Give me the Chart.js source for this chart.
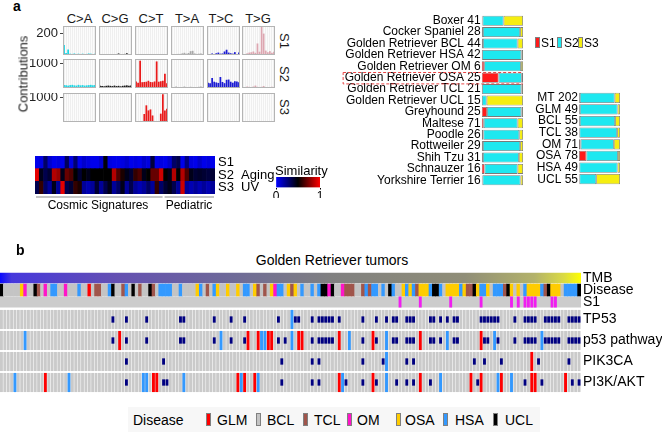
<!DOCTYPE html>
<html>
<head>
<meta charset="utf-8">
<script src="https://cdn.jsdelivr.net/npm/chart.js@4.4.0/dist/chart.umd.min.js"></script>
<style>
  body { margin: 0; background: #fff; font-family: "Liberation Sans", Arial, sans-serif; }
  #page { position: relative; width: 662px; height: 432px; overflow: hidden; }
  .box { position: absolute; }
  .txt { position: absolute; white-space: pre; color: #000; line-height: 1; }
  .sw { position: absolute; box-sizing: border-box; border: 1px solid #808080; }
</style>
</head>
<body>
<div id="page"></div>
<script>
// ---- panel a: mutational signatures (16 trinucleotide contexts per mutation type)
const mutTypes = ['C>A', 'C>G', 'C>T', 'T>A', 'T>C', 'T>G'];
const typeColors = ['#20d6e4', '#1a1a1a', '#e81a1a', '#a8a8a8', '#1c1cd2', '#dca6b0'];
const sigNames = ['S1', 'S2', 'S3'];
const sigS1 = [
  90, 18, 50, 12, 10, 14, 8, 12, 9, 12, 6, 10, 14, 12, 8, 12,
  5, 4, 3, 6, 6, 8, 3, 6, 8, 14, 4, 8, 10, 16, 5, 8,
  2, 1, 2, 1, 1, 2, 1, 1, 1, 1, 2, 1, 2, 1, 1, 1,
  8, 6, 8, 10, 10, 15, 20, 12, 18, 35, 38, 14, 10, 12, 14, 8,
  10, 8, 14, 8, 16, 22, 12, 14, 32, 48, 22, 16, 12, 26, 8, 22,
  8, 10, 15, 22, 25, 32, 20, 105, 30, 255, 195, 40, 25, 35, 20, 30
];
const sigS2 = [
  120, 110, 100, 120, 130, 110, 100, 130, 110, 120, 100, 110, 120, 130, 110, 120,
  90, 80, 70, 90, 100, 90, 80, 100, 80, 90, 70, 90, 100, 110, 90, 100,
  270, 220, 1130, 240, 250, 260, 300, 250, 240, 270, 1100, 260, 280, 300, 590, 200,
  40, 30, 60, 40, 30, 40, 60, 40, 30, 50, 40, 30, 40, 50, 60, 40,
  220, 200, 415, 260, 230, 210, 455, 250, 200, 340, 350, 260, 220, 280, 270, 240,
  30, 40, 60, 50, 40, 60, 100, 50, 30, 50, 80, 40, 30, 40, 50, 40
];
const sigS3 = [
  5, 4, 6, 5, 4, 5, 6, 4, 5, 6, 4, 5, 6, 5, 4, 5,
  3, 2, 3, 2, 3, 2, 3, 2, 3, 2, 3, 2, 3, 2, 3, 2,
  10, 40, 5, 20, 330, 690, 480, 520, 270, 40, 5, 20, 345, 1150, 480, 550,
  6, 5, 8, 6, 5, 7, 6, 5, 6, 8, 5, 6, 5, 7, 6, 5,
  5, 6, 5, 7, 6, 5, 8, 6, 5, 6, 7, 5, 6, 5, 8, 6,
  4, 5, 4, 6, 5, 4, 5, 6, 4, 5, 6, 4, 5, 4, 5, 6
];
const sigMax = [264, 1200, 1200];
const sigTick = [200, 1000, 1000];

// cosine similarity of S1-S3 to 30 COSMIC + 12 pediatric signatures
const cosmicCount = 30;
const pediatricCount = 12;
const simRows = ['S1', 'S2  Aging', 'S3  UV'];
const simS1 = [0.04, 0.06, 0.3, 0.1, 0.04, 0.06, 0.04, 0.32, 0.06, 0.28,
  0.04, 0.1, 0.06, 0.04, 0.04, 0.1, 0.48, 0.06, 0.04, 0.04,
  0.06, 0.1, 0.04, 0.06, 0.04, 0.1, 0.06, 0.38, 0.04, 0.06,
  0.04, 0.1, 0.3, 0.35, 0.04, 0.25, 0.06, 0.04, 0.1, 0.04, 0.06, 0.04];
const simS2 = [0.95, 0.45, 0.35, 0.4, 0.85, 0.8, 0.45, 0.7, 0.65, 0.5,
  0.4, 0.5, 0.45, 0.5, 0.5, 0.5, 0.5, 0.5, 0.85, 0.65,
  0.55, 0.45, 0.4, 0.6, 0.65, 0.45, 0.5, 0.7, 0.7, 0.9,
  0.5, 0.45, 0.85, 0.5, 0.85, 0.65, 0.45, 0.4, 0.42, 0.4, 0.38, 0.4];
const simS3 = [0.35, 0.6, 0.3, 0.2, 0.45, 0.2, 0.95, 0.35, 0.4, 0.6,
  0.55, 0.2, 0.15, 0.2, 0.4, 0.2, 0.35, 0.45, 0.2, 0.3,
  0.45, 0.2, 0.35, 0.2, 0.15, 0.2, 0.3, 0.2, 0.6, 0.3,
  0.4, 0.45, 0.35, 0.2, 0.9, 0.2, 0.15, 0.2, 0.15, 0.2, 0.15, 0.2];

// signature fractions per breed / tumor type
const breeds = ['Boxer 41', 'Cocker Spaniel 28', 'Golden Retriever BCL 44', 'Golden Retriever HSA 42',
  'Golden Retriever OM 6', 'Golden Retriever OSA 25', 'Golden Retriever TCL 21', 'Golden Retriever UCL 15',
  'Greyhound 25', 'Maltese 71', 'Poodle 26', 'Rottweiler 29', 'Shih Tzu 31', 'Schnauzer 16', 'Yorkshire Terrier 16'];
const breedS1 = [0.02, 0.03, 0.03, 0.01, 0.06, 0.41, 0.01, 0.005, 0.13, 0.05, 0.04, 0.03, 0.03, 0.07, 0.02];
const breedS2 = [0.51, 0.90, 0.84, 0.95, 0.89, 0.56, 0.95, 0.115, 0.83, 0.82, 0.87, 0.90, 0.87, 0.80, 0.92];
const breedS3 = [0.47, 0.07, 0.13, 0.04, 0.05, 0.03, 0.04, 0.88, 0.04, 0.13, 0.09, 0.07, 0.10, 0.13, 0.06];
const highlightBreed = 'Golden Retriever OSA 25';
const tumors = ['MT 202', 'GLM 49', 'BCL 55', 'TCL 38', 'OM 71', 'OSA 78', 'HSA 49', 'UCL 55'];
const tumorS1 = [0.02, 0.02, 0.02, 0.01, 0.04, 0.18, 0.01, 0.01];
const tumorS2 = [0.85, 0.92, 0.86, 0.92, 0.81, 0.77, 0.93, 0.41];
const tumorS3 = [0.13, 0.06, 0.12, 0.07, 0.15, 0.05, 0.06, 0.58];
const sigColors = ['#ff1a1a', '#1ee8f0', '#f5ee10'];

// ---- panel b: oncoprint, one character per tumor (sorted by TMB)
// disease: G=GLM B=BCL T=TCL M=OM O=OSA H=HSA U=UCL
const diseaseBySample = 'UBBBBBOMBB UTBMBHHBBM BBBHBBGBTT BBHUBBTHBU BTBBUTBHHH HBBHBBBBOH BTBHOBBOBB ' +
  'OBHHBOTBTB OMHHBOTOBH BBHBHUUMUB BMTTTBBTHT HHBHBUHBBO HOHTOOOHUU HBOOOOHOTT UOHHOBHHHT UOBOBHOOOO HTUOOOBHHH HU';
const diseaseNames = { G: 'GLM', B: 'BCL', T: 'TCL', M: 'OM', O: 'OSA', H: 'HSA', U: 'UCL' };
const diseaseColors = { GLM: '#ff0000', BCL: '#c4c4c4', TCL: '#a0554b', OM: '#ff14c8', OSA: '#ffcc00', HSA: '#3399ff', UCL: '#000000' };
// S1 signature present: x
const s1BySample = '.......... .......... .......... .......... .......... .......... .......... ' +
  '.......... .......... .......... .......... ........x. ....x..... ...x...... ..x....... .x.x.xxxx. ...xx..... ..';
// genes: m=mutation a=amplification d=deletion
const geneRows = ['TP53', 'p53 pathway', 'PIK3CA', 'PI3K/AKT'];
const tp53 = '.......... .......... .......... ...m...m.. ...m...... ...mm..... ...m....m. ' +
  '..m....... ..m...dmm. ..m.mmmmm. m......m.. .m..m.mm.. mmm....mm. m.m.mm.... ..mmmmmm.. ..m..mmmm. .mmmmm..mm mm';
const p53Pathway = '.......d.. .......... .......... ...m.a.m.. ...m...... ...mm..... ...m.d..m. ' +
  '..ma..adda a.m.m.d.aa ..m.mmmmm. a..d...m.. am..d.mm.. mmm.a..mm. m.d.mm.... ..amm.dm.. ..m..mmmm. dmmmmm..mm mm';
const pik3ca = '.......... .......... .......... .......m.. ........m. .......... .......... ' +
  '.......... ...m...... ..m.m..... .......m.. ...md..... m.m....... .......... m..m....m. .......a.m ........m. ..';
const pi3kAkt = '....d..... ...a...... d......... .......m.. ..dd.aa.mm ....d..... .......... ' +
  'ada..ad... ...m...... ..m.m..... adm....m.. am..d..m.. m.m.a..m.. d........a .ma....da. .d...m.aa. m......a.m .m';
const alterationColors = { m: '#000080', a: '#ff0000', d: '#3399ff' };
const diseaseLegend = ['GLM', 'BCL', 'TCL', 'OM', 'OSA', 'HSA', 'UCL'];

// ------------------------------------------------------------------
Chart.defaults.font.family = '"Liberation Sans", Arial, sans-serif';
Chart.defaults.color = '#000';
Chart.defaults.animation = false;
Chart.defaults.plugins.legend.display = false;
Chart.defaults.plugins.tooltip.enabled = false;

const page = document.getElementById('page');

function place(left, top, w, h) {
  const div = document.createElement('div');
  div.className = 'box';
  div.style.left = left + 'px';
  div.style.top = top + 'px';
  const cv = document.createElement('canvas');
  cv.width = Math.round(w);
  cv.height = Math.round(h);
  div.appendChild(cv);
  page.appendChild(div);
  return cv;
}

function txt(s, x, y, size, opts = {}) {
  const d = document.createElement('div');
  d.className = 'txt';
  d.textContent = s;
  d.style.left = x + 'px';
  d.style.top = y + 'px';
  d.style.fontSize = size + 'px';
  if (opts.bold) d.style.fontWeight = 'bold';
  if (opts.color) d.style.color = opts.color;
  const ax = opts.align === 'left' ? '0' : opts.align === 'right' ? '-100%' : '-50%';
  d.style.transform = `translate(${ax}, -50%)` + (opts.rotate ? ` rotate(${opts.rotate}deg)` : '');
  page.appendChild(d);
  return d;
}

function swatch(x, y, w, h, color) {
  const d = document.createElement('div');
  d.className = 'sw';
  d.style.cssText = `left:${x}px;top:${y}px;width:${w}px;height:${h}px;background:${color}`;
  page.appendChild(d);
}

const clean = s => s.replace(/ /g, '');

// fixed-width axis that does not inset the plot area for its edge labels
function fixAxis(width) {
  return s => {
    if (width !== undefined) s.width = width;
    s.paddingTop = 0;
    s.paddingBottom = 0;
  };
}

// ---- signature panels
const panelFrame = {
  id: 'panelFrame',
  beforeDraw(chart) {
    const { ctx, chartArea: a } = chart;
    ctx.save();
    ctx.fillStyle = '#efefef';
    ctx.fillRect(a.left, a.top, a.width, a.height);
    ctx.restore();
  },
  afterDraw(chart) {
    const { ctx, chartArea: a } = chart;
    ctx.save();
    ctx.strokeStyle = '#b4b4b4';
    ctx.lineWidth = 1;
    ctx.strokeRect(a.left + 0.5, a.top + 0.5, a.width - 1, a.height - 1);
    ctx.restore();
  }
};

const sigData = [sigS1, sigS2, sigS3];
const ctxBases = ['A', 'C', 'G', 'T'];
sigData.forEach((sig, r) => {
  mutTypes.forEach((mt, c) => {
    const ref = mt[0];
    const labels = [];
    ctxBases.forEach(a => ctxBases.forEach(b => labels.push(a + ref + b)));
    const first = c === 0;
    const left = 63.3 + c * 35.8;
    const top = 26 + r * 33.3;
    const axisW = 34;
    const cv = place(first ? left - axisW : left, top, first ? 33 + axisW : 33, 29);
    const yAxis = { display: false, min: 0, max: sigMax[r] };
    if (first) {
      Object.assign(yAxis, {
        display: true,
        afterFit: fixAxis(axisW),
        afterBuildTicks: s => { s.ticks = [{ value: sigTick[r] }]; },
        ticks: { font: { size: 13 }, color: '#222', padding: 2, callback: v => String(v) },
        grid: { drawOnChartArea: false, drawTicks: true, tickLength: 3, color: '#444' },
        border: { display: false }
      });
    }
    new Chart(cv, {
      type: 'bar',
      data: {
        labels,
        datasets: [{
          data: sig.slice(c * 16, c * 16 + 16),
          backgroundColor: typeColors[c],
          barPercentage: 0.85,
          categoryPercentage: 1
        }]
      },
      options: {
        responsive: false,
        layout: { padding: 0 },
        scales: {
          x: {
            ticks: { display: false },
            grid: { color: '#ffffff', lineWidth: 0.8, drawTicks: false },
            border: { display: false }
          },
          y: yAxis
        }
      },
      plugins: [panelFrame]
    });
  });
});

txt('a', 13, 6, 14, { bold: true, align: 'left' });
const headerX = [79.5, 115, 151, 187, 221, 258];
mutTypes.forEach((mt, c) => txt(mt, headerX[c], 17.5, 13, { color: '#1a1a1a' }));
sigNames.forEach((s, r) => txt(s, 284, 40.5 + r * 33.3, 13, { rotate: 90, color: '#1a1a1a' }));
txt('Contributions', 23, 74, 13, { rotate: -90, color: '#1a1a1a' });

// ---- similarity heatmap
function simColor(v) {
  if (v < 0.5) return `rgb(0,0,${Math.round(255 * (1 - v / 0.5))})`;
  return `rgb(${Math.round(255 * (v - 0.5) / 0.5)},0,0)`;
}
const simValues = [simS1, simS2, simS3];
const simCells = [];
const simFill = [];
simValues.forEach((row, r) => row.forEach((v, i) => {
  simCells.push({ x: [i, i + 1], y: simRows[r] });
  simFill.push(simColor(v));
}));
const brackets = {
  id: 'brackets',
  afterDraw(chart) {
    const { ctx, chartArea: a, scales: { x } } = chart;
    const y = a.bottom + 3;
    ctx.save();
    ctx.strokeStyle = '#b0b0b0';
    ctx.lineWidth = 1.5;
    [[0, cosmicCount], [cosmicCount, cosmicCount + pediatricCount]].forEach(([s, e]) => {
      ctx.beginPath();
      ctx.moveTo(x.getPixelForValue(s) + 1, y);
      ctx.lineTo(x.getPixelForValue(e) - 1, y);
      ctx.stroke();
    });
    ctx.restore();
  }
};
function rowAxis(labels, width, size, padding, position) {
  return {
    type: 'category', labels, position,
    grid: { display: false, drawTicks: false }, border: { display: false },
    ticks: { font: { size }, padding, autoSkip: false },
    afterFit: fixAxis(width)
  };
}
new Chart(place(35, 156, 260, 43), {
  type: 'bar',
  data: { datasets: [{ data: simCells, backgroundColor: simFill, barPercentage: 1, categoryPercentage: 1, grouped: false }] },
  options: {
    indexAxis: 'y',
    responsive: false,
    layout: { padding: { bottom: 5 } },
    scales: {
      x: { type: 'linear', min: 0, max: cosmicCount + pediatricCount, display: false },
      y: rowAxis(simRows, 80, 13, 3, 'right')
    }
  },
  plugins: [brackets]
});
txt('Cosmic Signatures', 98, 205, 12);
txt('Pediatric', 189, 205, 12);

// similarity colour bar
txt('Similarity', 275, 170, 13, { align: 'left' });
new Chart(place(270, 177, 60, 21), {
  type: 'bar',
  data: {
    datasets: [{
      data: [{ x: [0, 1], y: 'sim' }],
      backgroundColor: c => {
        const a = c.chart.chartArea;
        if (!a) return '#000';
        const g = c.chart.ctx.createLinearGradient(a.left, 0, a.right, 0);
        g.addColorStop(0, simColor(0));
        g.addColorStop(0.5, simColor(0.5));
        g.addColorStop(1, simColor(1));
        return g;
      },
      barPercentage: 1, categoryPercentage: 1
    }]
  },
  options: {
    indexAxis: 'y',
    responsive: false,
    layout: { padding: { left: 6, right: 10 } },
    scales: {
      y: { type: 'category', labels: ['sim'], display: false },
      x: {
        type: 'linear', min: 0, max: 1,
        afterBuildTicks: s => { s.ticks = [{ value: 0 }, { value: 1 }]; },
        ticks: { font: { size: 12 }, padding: 0 },
        grid: { display: true, drawOnChartArea: false, tickLength: 2, color: '#000' },
        border: { display: false }
      }
    }
  }
});

// ---- signature fractions (stacked bars)
function stackedSets(s1, s2, s3) {
  return [s1, s2, s3].map((d, k) => ({
    label: sigNames[k], data: d, backgroundColor: sigColors[k],
    borderColor: '#7a7a7a', borderWidth: 0.8, borderSkipped: false,
    barPercentage: 0.88, categoryPercentage: 1
  }));
}
function stackedOptions(axisW) {
  const y = rowAxis(undefined, axisW, 12, 1, 'left');
  delete y.type;
  delete y.labels;
  y.stacked = true;
  return {
    indexAxis: 'y',
    responsive: false,
    scales: { x: { stacked: true, min: 0, max: 1, display: false }, y }
  };
}
const highlight = {
  id: 'highlight',
  afterDraw(chart) {
    const { ctx, chartArea: a, scales: { y } } = chart;
    const i = breeds.indexOf(highlightBreed);
    const step = y.getPixelForValue(1) - y.getPixelForValue(0);
    const cy = y.getPixelForValue(i);
    ctx.save();
    ctx.font = '12px "Liberation Sans", Arial, sans-serif';
    const w = ctx.measureText(highlightBreed).width;
    const x0 = a.left - 1 - w - 2;
    ctx.strokeStyle = '#e84545';
    ctx.lineWidth = 1;
    ctx.setLineDash([3, 2]);
    ctx.strokeRect(x0 + 0.5, cy - step / 2 + 0.5, a.right + 2 - x0, step);
    ctx.restore();
  }
};
new Chart(place(330, 15.3, 193, 171.4), {
  type: 'bar',
  data: { labels: breeds, datasets: stackedSets(breedS1, breedS2, breedS3) },
  options: stackedOptions(151.7),
  plugins: [highlight]
});
new Chart(place(520, 92.2, 100, 92.6), {
  type: 'bar',
  data: { labels: tumors, datasets: stackedSets(tumorS1, tumorS2, tumorS3) },
  options: stackedOptions(59)
});
// signature legend
[[535, 541], [557, 564], [578, 584]].forEach(([bx, tx], k) => {
  swatch(bx, 37, 5, 11, sigColors[k]);
  txt(sigNames[k], tx, 42.5, 12, { align: 'left' });
});

// ---- panel b: oncoprint
txt('b', 16, 250, 14, { bold: true, align: 'left' });
txt('Golden Retriever tumors', 332, 260, 14);

const disease = clean(diseaseBySample).split('').map(c => diseaseNames[c]);
const N = disease.length;

function tmbGradient(chart) {
  const a = chart.chartArea;
  if (!a) return '#808080';
  const g = chart.ctx.createLinearGradient(a.left, 0, a.right, 0);
  [[0, '#0a0aff'], [0.02, '#4638dc'], [0.2, '#6450b2'], [0.4, '#6e6a98'], [0.57, '#808080'],
   [0.8, '#908e78'], [0.92, '#b3b26a'], [0.97, '#dada44'], [1, '#ffff00']]
    .forEach(([o, c]) => g.addColorStop(o, c));
  return g;
}
function marksOf(str, row, code) {
  const out = [];
  clean(str).split('').forEach((ch, i) => { if (ch === code) out.push({ x: [i, i + 0.85], y: row }); });
  return out;
}

// lower `order` is painted on top
new Chart(place(0, 271.5, 662, 36), {
  type: 'bar',
  data: {
    datasets: [
      { data: [{ x: [0, N], y: 'TMB' }], backgroundColor: c => tmbGradient(c.chart),
        barPercentage: 0.86, categoryPercentage: 1, grouped: false, order: 2 },
      { data: disease.map((d, i) => ({ x: [i, i + 1], y: 'Disease' })), backgroundColor: disease.map(d => diseaseColors[d]),
        barPercentage: 1, categoryPercentage: 1, grouped: false, order: 2 },
      { data: [{ x: [0, N], y: 'S1' }], backgroundColor: '#cccccc', barPercentage: 0.92, categoryPercentage: 1,
        grouped: false, order: 3 },
      { data: marksOf(s1BySample, 'S1', 'x'), backgroundColor: '#f01ef0', barPercentage: 0.92, categoryPercentage: 1,
        grouped: false, order: 1 }
    ]
  },
  options: {
    indexAxis: 'y', responsive: false,
    scales: {
      x: { type: 'linear', min: 0, max: N, display: false },
      y: rowAxis(['TMB', 'Disease', 'S1'], 81, 14, 2, 'right')
    }
  }
});

const geneStrings = [tp53, p53Pathway, pik3ca, pi3kAkt];
const cellBg = [];
geneRows.forEach(g => { for (let i = 0; i < N; i++) cellBg.push({ x: [i, i + 0.85], y: g }); });
const geneSets = [{ data: cellBg, backgroundColor: '#cacaca', barPercentage: 0.91, categoryPercentage: 1,
  grouped: false, order: 5 }];
['a', 'd', 'm'].forEach((code, k) => {
  const data = [];
  geneStrings.forEach((s, r) => data.push(...marksOf(s, geneRows[r], code)));
  geneSets.push({
    data, backgroundColor: alterationColors[code],
    barPercentage: code === 'm' ? 0.3 : 0.91, categoryPercentage: 1, grouped: false, order: 3 - k
  });
});
new Chart(place(0, 308.5, 662, 84), {
  type: 'bar',
  data: { datasets: geneSets },
  options: {
    indexAxis: 'y', responsive: false,
    scales: {
      x: { type: 'linear', min: 0, max: N, display: false },
      y: rowAxis(geneRows, 81, 14, 2, 'right')
    }
  }
});

// disease legend
const legendBg = document.createElement('div');
legendBg.className = 'box';
legendBg.style.cssText = 'left:128px;top:407px;width:412px;height:25px;background:#f7f7f7';
page.appendChild(legendBg);
txt('Disease', 133, 419.5, 14, { align: 'left' });
const legendBoxX = [206, 256, 303, 347, 396, 443, 493];
const legendTextX = [217, 267, 314, 357, 405, 455, 505];
diseaseLegend.forEach((d, k) => {
  swatch(legendBoxX[k], 413, 5, 13, diseaseColors[d]);
  txt(d, legendTextX[k], 419.5, 14, { align: 'left' });
});
</script>
</body>
</html>
